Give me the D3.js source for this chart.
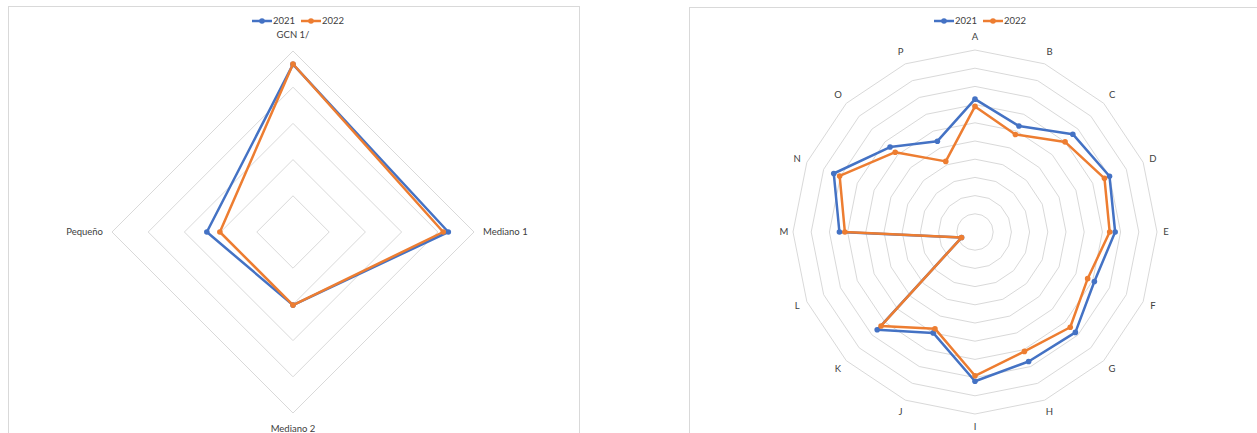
<!DOCTYPE html>
<html>
<head>
<meta charset="utf-8">
<script src="https://cdn.jsdelivr.net/npm/d3@7"></script>
<style>
  body { margin: 0; background: #fff; }
  svg { display: block; font-family: Lato, "Open Sans", sans-serif; }
</style>
</head>
<body>
<svg id="chart" width="1257" height="433"></svg>
<script>
// left radar
const leftAxes = ['GCN 1/', 'Mediano 1', 'Mediano 2', 'Pequeño'];
const left2021 = [46.3, 42.9, 20.2, 23.8];
const left2022 = [46.4, 41.5, 20.2, 20.2];
const leftTicks = [10, 20, 30, 40, 50];

// right radar
const rightAxes = ['A','B','C','D','E','F','G','H','I','J','K','L','M','N','O','P'];
const right2021 = [7.3, 6.3, 7.6, 8.0, 7.7, 7.1, 7.8, 7.7, 8.2, 6.0, 7.6, 0.8, 7.45, 8.4, 6.6, 5.4];
const right2022 = [6.9, 5.8, 7.0, 7.7, 7.4, 6.7, 7.4, 7.1, 7.9, 5.75, 7.3, 0.8, 7.15, 8.05, 6.2, 4.2];
const rightTicks = [1, 2, 3, 4, 5, 6, 7, 8, 9, 10];

const seriesNames = ['2021', '2022'];
const colors = ['#4472C4', '#ED7D31'];
const grid = '#d9d9d9';

const svg = d3.select('#chart');

// panel frames
svg.append('rect').attr('x', 8.5).attr('y', 6.5).attr('width', 571).attr('height', 440)
  .attr('fill', '#fff').attr('stroke', grid);
svg.append('rect').attr('x', 689.5).attr('y', 7.5).attr('width', 600).attr('height', 440)
  .attr('fill', '#fff').attr('stroke', grid);

function drawRadar(cfg) {
  const g = svg.append('g').attr('transform', `translate(${cfg.cx},${cfg.cy})`);
  const n = cfg.axes.length;
  const r = d3.scaleLinear().domain([0, cfg.max]).range([0, cfg.radius]);
  const angle = i => (i / n) * 2 * Math.PI;

  const ringLine = d3.lineRadial()
    .angle((d, i) => angle(i))
    .radius(d => r(d))
    .curve(d3.curveLinearClosed);

  // rings
  cfg.ticks.forEach(t => {
    g.append('path')
      .attr('d', ringLine(cfg.axes.map(() => t)))
      .attr('fill', 'none')
      .attr('stroke', grid)
      .attr('stroke-width', 1);
  });

  // axis labels
  cfg.axes.forEach((a, i) => {
    const ang = angle(i);
    const sx = Math.sin(ang), sy = -Math.cos(ang);
    let anchor = 'middle';
    if (cfg.sideAnchors) {
      if (sx > 0.5) anchor = 'start';
      else if (sx < -0.5) anchor = 'end';
    }
    // distance grows a little towards the vertical axes
    const lr = cfg.labelR + cfg.labelExtra * Math.abs(sy);
    g.append('text')
      .attr('x', lr * sx)
      .attr('y', lr * sy)
      .attr('dy', '0.35em')
      .attr('text-anchor', anchor)
      .attr('font-size', 9.5)
      .attr('fill', '#404040')
      .text(a);
  });

  // series
  const line = d3.lineRadial()
    .angle((d, i) => angle(i))
    .radius(d => r(d))
    .curve(d3.curveLinearClosed);

  cfg.series.forEach((vals, s) => {
    g.append('path')
      .attr('d', line(vals))
      .attr('fill', 'none')
      .attr('stroke', colors[s])
      .attr('stroke-width', 2.5)
      .attr('stroke-linejoin', 'round');
    g.selectAll(null)
      .data(vals)
      .enter()
      .append('circle')
      .attr('cx', (d, i) => r(d) * Math.sin(angle(i)))
      .attr('cy', (d, i) => -r(d) * Math.cos(angle(i)))
      .attr('r', 2.8)
      .attr('fill', colors[s]);
  });

  // legend
  const lg = svg.append('g').attr('transform', `translate(${cfg.cx - 41},${cfg.legendY})`);
  seriesNames.forEach((name, s) => {
    const x0 = s * 49;
    lg.append('line').attr('x1', x0).attr('x2', x0 + 20).attr('y1', 0).attr('y2', 0)
      .attr('stroke', colors[s]).attr('stroke-width', 2.5);
    lg.append('circle').attr('cx', x0 + 10).attr('cy', 0).attr('r', 2.8).attr('fill', colors[s]);
    lg.append('text').attr('x', x0 + 21).attr('y', 0).attr('dy', '0.35em')
      .attr('font-size', 9.5).attr('fill', '#404040').text(name);
  });
}

drawRadar({
  cx: 293, cy: 232, radius: 181, max: 50,
  axes: leftAxes, ticks: leftTicks, series: [left2021, left2022],
  labelR: 190, labelExtra: 7, sideAnchors: true, legendY: 21
});

drawRadar({
  cx: 975, cy: 232, radius: 182, max: 10,
  axes: rightAxes, ticks: rightTicks, series: [right2021, right2022],
  labelR: 191, labelExtra: 4, sideAnchors: false, legendY: 21
});
</script>
</body>
</html>
